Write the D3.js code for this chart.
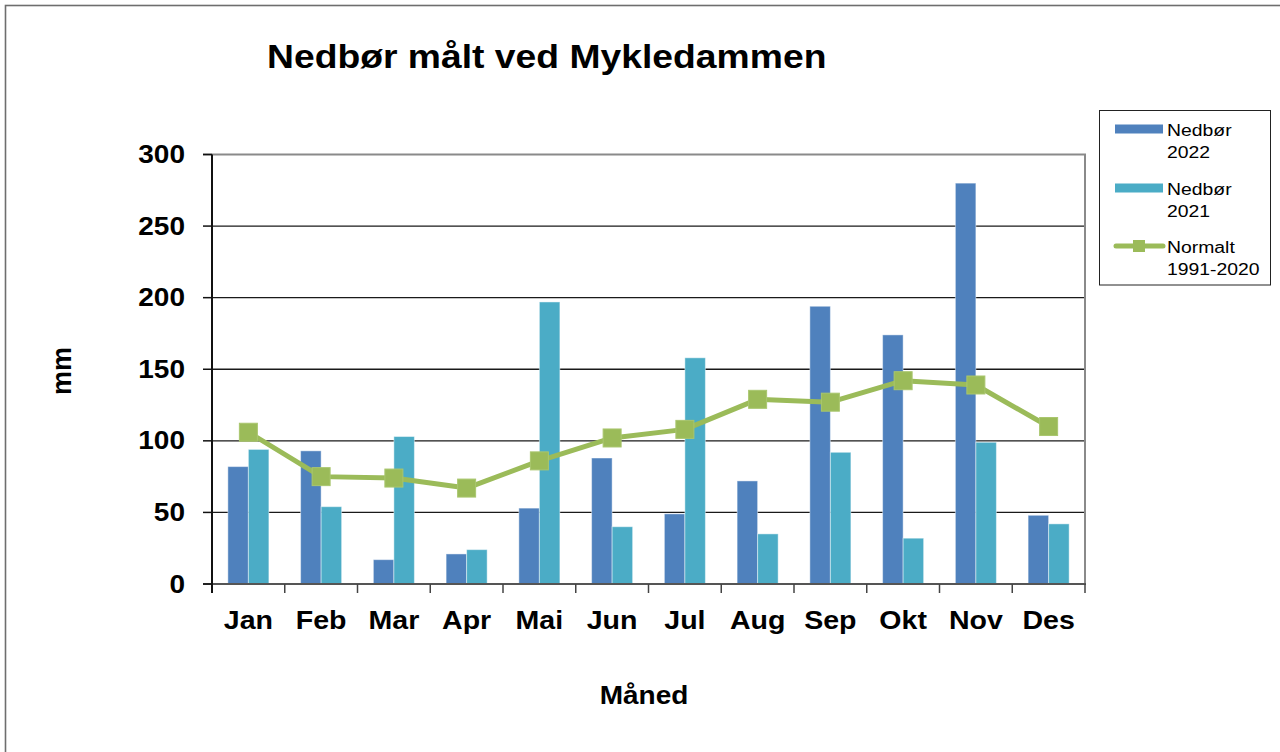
<!DOCTYPE html>
<html>
<head>
<meta charset="utf-8">
<script src="https://cdn.jsdelivr.net/npm/d3@7"></script>
<style>
  html, body { margin: 0; padding: 0; background: #fff; }
  svg { display: block; }
  text { font-family: "Liberation Sans", Arial, sans-serif; fill: #000; }
</style>
</head>
<body>
<svg id="chart" width="1280" height="752"></svg>
<script>
// ---- Data ----
const months = ["Jan","Feb","Mar","Apr","Mai","Jun","Jul","Aug","Sep","Okt","Nov","Des"];
const nedbor2022 = [82, 93, 17, 21, 53, 88, 49, 72, 194, 174, 280, 48];
const nedbor2021 = [94, 54, 103, 24, 197, 40, 158, 35, 92, 32, 99, 42];
const normalt = [106, 75, 74, 67, 86, 102, 108, 129, 127, 142, 139, 110];
const yTicks = [0, 50, 100, 150, 200, 250, 300];
const seriesNames = [["Nedbør", "2022"], ["Nedbør", "2021"], ["Normalt", "1991-2020"]];
const colors = { y2022: "#4F81BD", y2021: "#4BACC6", normal: "#9BBB59" };

const SX = 1.12; // horizontal text stretch
const svg = d3.select("#chart");

// outer frame
svg.append("rect").attr("x", 5.5).attr("y", 5.5).attr("width", 1300).attr("height", 800)
  .attr("fill", "none").attr("stroke", "#6e6e6e").attr("stroke-width", 1.6);

const plot = { left: 212, right: 1085, top: 154.5, bottom: 584 };
const x = d3.scaleBand().domain(months).range([plot.left, plot.right]).padding(0);
const y = d3.scaleLinear().domain([0, 300]).range([plot.bottom, plot.top]);
const bw = x.bandwidth();
const barW = bw * 0.282;

// gridlines
svg.append("g").selectAll("line").data(yTicks.filter(t => t > 0 && t < 300)).join("line")
  .attr("x1", plot.left).attr("x2", plot.right)
  .attr("y1", d => y(d)).attr("y2", d => y(d))
  .attr("stroke", "#1a1a1a").attr("stroke-width", 1.3);

// top border and right border (gray)
svg.append("line").attr("x1", plot.left - 9).attr("x2", plot.right + 1)
  .attr("y1", y(300)).attr("y2", y(300)).attr("stroke", "#8a8a8a").attr("stroke-width", 2);
svg.append("line").attr("x1", plot.right).attr("x2", plot.right)
  .attr("y1", y(300)).attr("y2", plot.bottom).attr("stroke", "#8a8a8a").attr("stroke-width", 2);

// bars
const bars = svg.append("g");
bars.selectAll("rect.b22").data(months).join("rect")
  .attr("x", (d) => x(d) + bw / 2 - barW)
  .attr("y", (d, i) => y(nedbor2022[i]))
  .attr("width", barW)
  .attr("height", (d, i) => y(0) - y(nedbor2022[i]))
  .attr("fill", colors.y2022)
  .attr("stroke", "rgba(255,255,255,0.45)").attr("stroke-width", 1);
bars.selectAll("rect.b21").data(months).join("rect")
  .attr("x", (d) => x(d) + bw / 2)
  .attr("y", (d, i) => y(nedbor2021[i]))
  .attr("width", barW)
  .attr("height", (d, i) => y(0) - y(nedbor2021[i]))
  .attr("fill", colors.y2021)
  .attr("stroke", "rgba(255,255,255,0.45)").attr("stroke-width", 1);

// x axis line & ticks
svg.append("line").attr("x1", plot.left - 9).attr("x2", plot.right + 1)
  .attr("y1", plot.bottom).attr("y2", plot.bottom).attr("stroke", "#555").attr("stroke-width", 2);
const bounds = months.map(m => x(m)).concat([plot.right]);
svg.append("g").selectAll("line").data(bounds).join("line")
  .attr("x1", d => d).attr("x2", d => d)
  .attr("y1", plot.bottom).attr("y2", plot.bottom + 9)
  .attr("stroke", "#444").attr("stroke-width", 1.5);

// y axis line & ticks
svg.append("line").attr("x1", plot.left).attr("x2", plot.left)
  .attr("y1", y(300)).attr("y2", plot.bottom + 9).attr("stroke", "#111").attr("stroke-width", 2);
svg.append("g").selectAll("line").data(yTicks).join("line")
  .attr("x1", plot.left - 9).attr("x2", plot.left)
  .attr("y1", d => y(d)).attr("y2", d => y(d))
  .attr("stroke", "#111").attr("stroke-width", 1.5);

// y tick labels
svg.append("g").selectAll("text").data(yTicks).join("text")
  .attr("transform", d => `translate(185,${y(d) + 8.5}) scale(${SX},1)`)
  .attr("text-anchor", "end").attr("font-size", 25).attr("font-weight", "bold")
  .text(d => d);

// x labels
svg.append("g").selectAll("text").data(months).join("text")
  .attr("transform", d => `translate(${x(d) + bw / 2},629) scale(${SX},1)`)
  .attr("text-anchor", "middle").attr("font-size", 25.5).attr("font-weight", "bold")
  .text(d => d);

// normal line
const line = d3.line().x((d, i) => x(months[i]) + bw / 2).y(d => y(d));
svg.append("path").datum(normalt).attr("d", line)
  .attr("fill", "none").attr("stroke", colors.normal).attr("stroke-width", 5)
  .attr("stroke-linejoin", "round");
const ms = 18;
svg.append("g").selectAll("rect").data(normalt).join("rect")
  .attr("x", (d, i) => x(months[i]) + bw / 2 - ms / 2)
  .attr("y", d => y(d) - ms / 2)
  .attr("width", ms).attr("height", ms)
  .attr("fill", colors.normal).attr("stroke", "#a9c66e").attr("stroke-width", 1);

// title
svg.append("text").attr("transform", `translate(267,68) scale(1.13,1)`)
  .attr("font-size", 33).attr("font-weight", "bold")
  .text("Nedbør målt ved Mykledammen");

// axis titles
svg.append("text").attr("transform", `translate(644,704) scale(${SX},1)`)
  .attr("text-anchor", "middle").attr("font-size", 25).attr("font-weight", "bold").text("Måned");
svg.append("text").attr("transform", "translate(71,371) rotate(-90)")
  .attr("text-anchor", "middle").attr("font-size", 27).attr("font-weight", "bold").text("mm");

// legend
const lg = svg.append("g");
lg.append("rect").attr("x", 1099.5).attr("y", 110.5).attr("width", 171).attr("height", 174.5)
  .attr("fill", "#fff").attr("stroke", "#222").attr("stroke-width", 1);
const legY = [129, 188, 246];
lg.append("rect").attr("x", 1115).attr("y", legY[0] - 4.5).attr("width", 48).attr("height", 9).attr("fill", colors.y2022);
lg.append("rect").attr("x", 1115).attr("y", legY[1] - 4.5).attr("width", 48).attr("height", 9).attr("fill", colors.y2021);
lg.append("line").attr("x1", 1116).attr("x2", 1163).attr("y1", legY[2]).attr("y2", legY[2])
  .attr("stroke", colors.normal).attr("stroke-width", 5).attr("stroke-linecap", "round");
lg.append("rect").attr("x", 1133).attr("y", legY[2] - 6).attr("width", 12).attr("height", 12).attr("fill", colors.normal);
seriesNames.forEach((nm, i) => {
  lg.append("text").attr("transform", `translate(1167,${legY[i] + 6.5}) scale(${SX},1)`)
    .attr("font-size", 17.3).text(nm[0]);
  lg.append("text").attr("transform", `translate(1167,${legY[i] + 29}) scale(${SX},1)`)
    .attr("font-size", 17.3).text(nm[1]);
});
</script>
</body>
</html>
